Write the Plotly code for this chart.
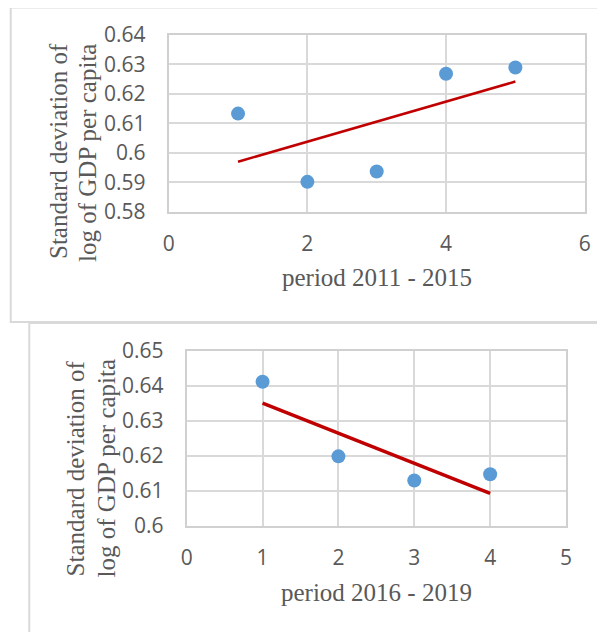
import numpy as np
import plotly.graph_objects as go

# data
period_a = [1, 2, 3, 4, 5]
sd_a = [0.6133, 0.5902, 0.5937, 0.6268, 0.6289]
period_b = [1, 2, 3, 4]
sd_b = [0.6412, 0.6199, 0.6130, 0.6148]

yticks_a = [0.58, 0.59, 0.60, 0.61, 0.62, 0.63, 0.64]
ytext_a = ["0.58", "0.59", "0.6", "0.61", "0.62", "0.63", "0.64"]
yticks_b = [0.60, 0.61, 0.62, 0.63, 0.64, 0.65]
ytext_b = ["0.6", "0.61", "0.62", "0.63", "0.64", "0.65"]

title_a = "period 2011 - 2015"
title_b = "period 2016 - 2019"
ytitle = ["Standard deviation of", "log of GDP per capita"]

W, H = 605, 632
OFF = 8  # page body margin

def px(x):
    return (x - OFF) / W
def py(y):
    return 1 - (y - OFF) / H

BLUE = "#5b9bd5"
RED = "#c00000"
GRID = "#d9d9d9"
TXT = "#595959"
TICKFONT = dict(family="Open Sans, Liberation Sans, sans-serif", size=21, color=TXT)
SERIF = dict(family="Liberation Serif, Times New Roman, serif", size=25, color=TXT)


def trend(x, y):
    k, b = np.polyfit(x, y, 1)
    xs = np.array([min(x), max(x)])
    return xs, k * xs + b


fig = go.Figure()

tx, ty = trend(period_a, sd_a)
fig.add_trace(go.Scatter(x=tx, y=ty, mode="lines", line=dict(color=RED, width=2.5),
                         xaxis="x", yaxis="y", showlegend=False))
fig.add_trace(go.Scatter(x=period_a, y=sd_a, mode="markers",
                         marker=dict(color=BLUE, size=14), xaxis="x", yaxis="y",
                         showlegend=False))

tx, ty = trend(period_b, sd_b)
fig.add_trace(go.Scatter(x=tx, y=ty, mode="lines", line=dict(color=RED, width=3.5),
                         xaxis="x2", yaxis="y2", showlegend=False))
fig.add_trace(go.Scatter(x=period_b, y=sd_b, mode="markers",
                         marker=dict(color=BLUE, size=14), xaxis="x2", yaxis="y2",
                         showlegend=False))

axis_common = dict(showgrid=True, gridcolor=GRID, gridwidth=1.5, zeroline=False,
                   showline=True, linecolor="#d0d0d0", linewidth=2, mirror=True,
                   ticks="", tickfont=TICKFONT, automargin=False)

fig.update_layout(
    width=W, height=H,
    margin=dict(l=0, r=0, t=0, b=0, autoexpand=False),
    paper_bgcolor="white", plot_bgcolor="white",
    xaxis=dict(domain=[px(168.7), px(584.7)], range=[0, 6], dtick=2, anchor="y",
               ticklabelstandoff=12, **axis_common),
    yaxis=dict(domain=[py(212), py(34.7)], range=[0.58, 0.64], tickvals=yticks_a,
               ticktext=ytext_a, anchor="x", ticklabelstandoff=17, **axis_common),
    xaxis2=dict(domain=[px(186.7), px(566)], range=[0, 5], dtick=1, anchor="y2",
                ticklabelstandoff=12, **axis_common),
    yaxis2=dict(domain=[py(526), py(351)], range=[0.60, 0.65], tickvals=yticks_b,
                ticktext=ytext_b, anchor="x2", ticklabelstandoff=17, **axis_common),
)

# the two chart frames
fig.add_shape(type="rect", xref="paper", yref="paper",
              x0=px(10.7), x1=px(598), y0=py(322), y1=py(7.5),
              line=dict(color=GRID, width=2), layer="below")
fig.add_shape(type="rect", xref="paper", yref="paper",
              x0=px(29.3), x1=px(599.3), y0=py(650), y1=py(323),
              line=dict(color=GRID, width=2), layer="below")

# axis titles
def note(text, x, y, angle=0):
    fig.add_annotation(text=text, x=px(x), y=py(y), xref="paper", yref="paper",
                       xanchor="center", yanchor="middle", showarrow=False,
                       textangle=angle, font=SERIF)

note(title_a, 376.7, 277)
note(title_b, 376.7, 592.7)
note(ytitle[0], 58, 151, -90)
note(ytitle[1], 87, 153, -90)
note(ytitle[0], 75.4, 468, -90)
note(ytitle[1], 106.4, 468, -90)

fig.write_html("out.html")
